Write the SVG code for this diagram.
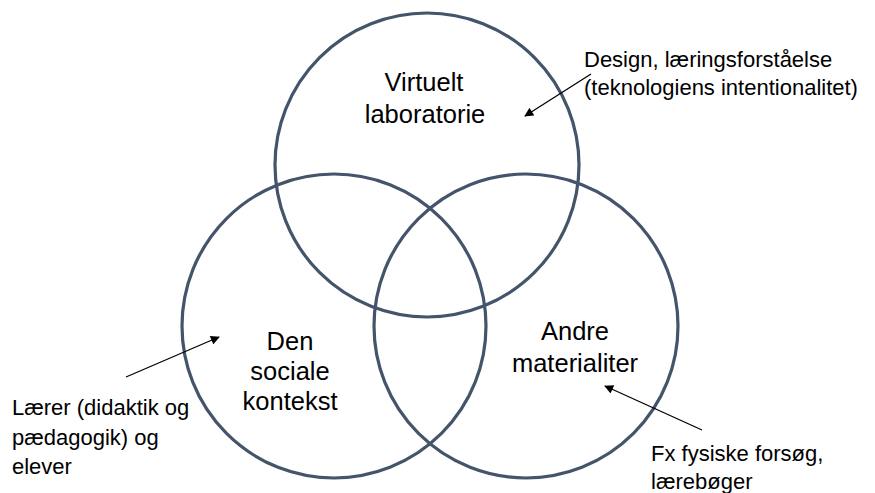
<svg xmlns="http://www.w3.org/2000/svg" width="875" height="493" viewBox="0 0 875 493">
<defs>
<style>
.c{fill:none;stroke:#44546a;stroke-width:3.2}
.lbl{font-family:"Liberation Sans",Arial,sans-serif;font-size:25.5px;fill:#000;text-anchor:middle}
.ann{font-family:"Liberation Sans",Arial,sans-serif;font-size:22px;fill:#000}
.a{stroke:#000;stroke-width:1.3;fill:none;marker-end:url(#ah)}
</style>
<marker id="ah" viewBox="0 0 10 10" refX="9" refY="5" markerWidth="10" markerHeight="9" markerUnits="userSpaceOnUse" orient="auto">
<path d="M0,0 L10,5 L0,10 z" fill="#000"/>
</marker>
</defs>
<rect width="875" height="493" fill="#fff"/>
<g id="virtuelt-laboratorie">
<circle class="c" cx="427" cy="165" r="152"/>
<text class="lbl" x="424" y="91">Virtuelt</text>
<text class="lbl" x="425" y="123">laboratorie</text>
</g>
<g id="den-sociale-kontekst">
<circle class="c" cx="334" cy="326" r="152"/>
<text class="lbl" x="290" y="350">Den</text>
<text class="lbl" x="290" y="380">sociale</text>
<text class="lbl" x="290" y="410">kontekst</text>
</g>
<g id="andre-materialiter">
<circle class="c" cx="526" cy="326" r="152"/>
<text class="lbl" x="575" y="340">Andre</text>
<text class="lbl" x="575" y="372">materialiter</text>
</g>
<g id="note-design">
<text class="ann" x="584" y="67">Design, læringsforståelse</text>
<text class="ann" x="584" y="95">(teknologiens intentionalitet)</text>
</g>
<g id="note-laerer">
<text class="ann" x="12" y="415">Lærer (didaktik og</text>
<text class="ann" x="12" y="445">pædagogik) og</text>
<text class="ann" x="12" y="474">elever</text>
</g>
<g id="note-fx">
<text class="ann" x="651" y="461">Fx fysiske forsøg,</text>
<text class="ann" x="651" y="489">lærebøger</text>
</g>
<g id="connectors">
<line class="a" x1="591" y1="74" x2="525" y2="116"/>
<line class="a" x1="126" y1="377" x2="219" y2="337"/>
<line class="a" x1="702" y1="430" x2="605" y2="386"/>
</g>
</svg>
